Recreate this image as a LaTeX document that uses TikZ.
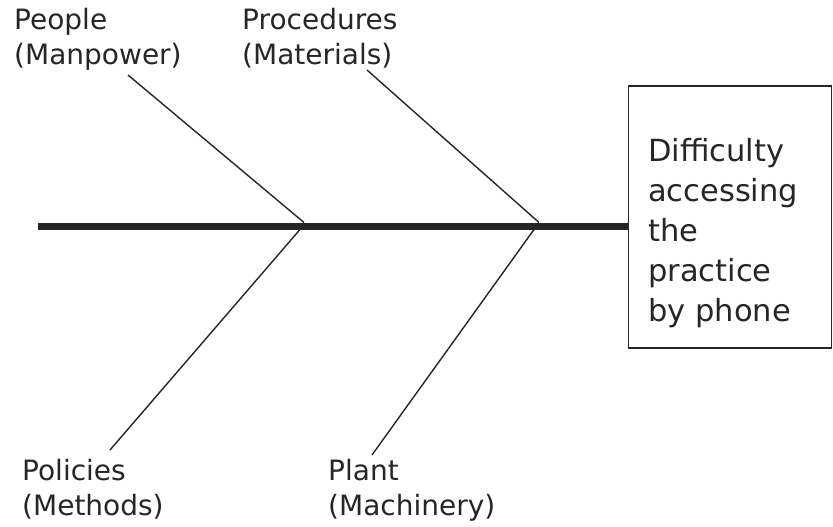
\documentclass[tikz,border=0pt]{standalone}
\usepackage{fontspec}
\setmainfont{DejaVu Sans}
\begin{document}
\begin{tikzpicture}[x=1pt,y=-1pt,
  ink/.style={draw=black!85},
  spine/.style={ink,line width=7pt},
  bone/.style={ink,line width=1.4pt},
  cause/.style={anchor=north west,inner sep=0pt,align=left,text=black!85,
    font=\fontsize{28}{35}\selectfont},
  effectbox/.style={ink,line width=1.3pt,minimum width=203pt,minimum height=262pt,inner sep=0pt},
  effecttext/.style={anchor=north west,inner sep=0pt,align=left,text=black!85,
    font=\fontsize{30.5}{40}\selectfont}]
  \useasboundingbox (0,0) rectangle (833,527);
  % effect box on the right
  \node[effectbox] (box) at (730,217) {};
  \node[effecttext] (effect) at (648,138) {Difficulty\\accessing\\the\\practice\\by phone};
  % spine
  \coordinate (tail) at (38,226);
  \draw[spine] (tail) -- (box.west |- tail);
  % junctions on the spine
  \coordinate (j1top) at (304,222.5);
  \coordinate (j1bot) at (300,229.5);
  \coordinate (j2top) at (539,222.5);
  \coordinate (j2bot) at (534,229.5);
  % cause labels
  \node[cause] (people) at (14,8) {People\\(Manpower)};
  \node[cause] (procedures) at (242,8) {Procedures\\(Materials)};
  \node[cause] (policies) at (22,459) {Policies\\(Methods)};
  \node[cause] (plant) at (328,459) {Plant\\(Machinery)};
  % bone ends near the labels
  \coordinate (b1) at (128,75);
  \coordinate (b2) at (367,70);
  \coordinate (b3) at (110,450);
  \coordinate (b4) at (372,455);
  \draw[bone] (b1) -- (j1top);
  \draw[bone] (b3) -- (j1bot);
  \draw[bone] (b2) -- (j2top);
  \draw[bone] (b4) -- (j2bot);
\end{tikzpicture}
\end{document}
